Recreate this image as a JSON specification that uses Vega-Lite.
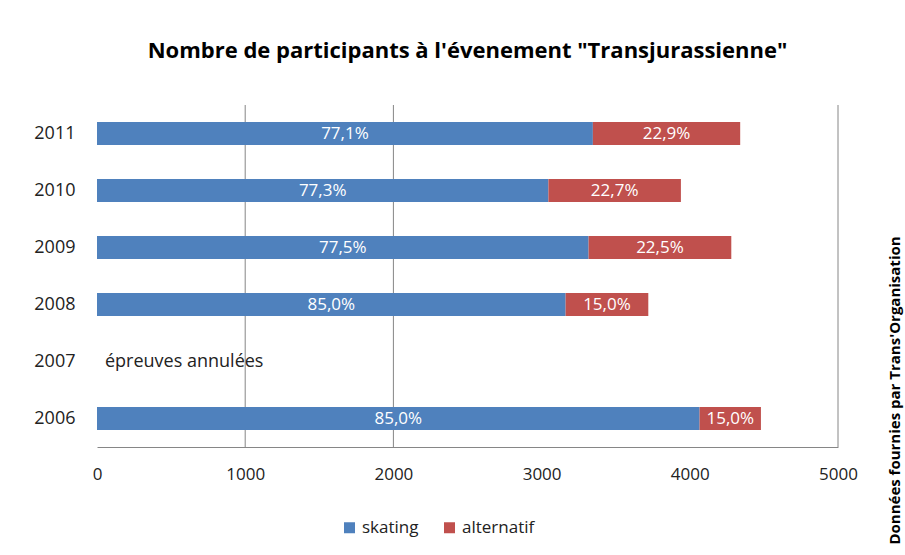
{
  "$schema": "https://vega.github.io/schema/vega-lite/v6.json",
  "autosize": {"type": "none"},
  "padding": {"left": 97, "top": 105, "right": 67, "bottom": 108},
  "width": 741,
  "height": 342,
  "background": "white",
  "config": {"font": "Open Sans", "view": {"stroke": null}},
  "title": {
    "text": "Nombre de participants à l'évenement \"Transjurassienne\"",
    "fontSize": 22,
    "fontWeight": "bold",
    "font": "Open Sans",
    "color": "#000000",
    "offset": 42,
    "anchor": "middle"
  },
  "datasets": {
    "bars": [
      {"year": "2011", "type": "skating", "value": 3346, "label": "77,1%", "ord": 1},
      {"year": "2011", "type": "alternatif", "value": 994, "label": "22,9%", "ord": 2},
      {"year": "2010", "type": "skating", "value": 3046, "label": "77,3%", "ord": 1},
      {"year": "2010", "type": "alternatif", "value": 894, "label": "22,7%", "ord": 2},
      {"year": "2009", "type": "skating", "value": 3317, "label": "77,5%", "ord": 1},
      {"year": "2009", "type": "alternatif", "value": 963, "label": "22,5%", "ord": 2},
      {"year": "2008", "type": "skating", "value": 3162, "label": "85,0%", "ord": 1},
      {"year": "2008", "type": "alternatif", "value": 558, "label": "15,0%", "ord": 2},
      {"year": "2006", "type": "skating", "value": 4066, "label": "85,0%", "ord": 1},
      {"year": "2006", "type": "alternatif", "value": 414, "label": "15,0%", "ord": 2}
    ],
    "notes": [{"year": "2007", "note": "épreuves annulées"}],
    "grid": [{"g": 1000}, {"g": 2000}, {"g": 5000}]
  },
  "layer": [
    {
      "data": {"name": "grid"},
      "mark": {"type": "rule", "color": "#868686", "strokeWidth": 1},
      "encoding": {
        "x": {"field": "g", "type": "quantitative", "title": null, "scale": {"domain": [0, 5000], "nice": false}}
      }
    },
    {
      "data": {"name": "bars"},
      "mark": {"type": "bar"},
      "encoding": {
        "y": {
          "field": "year", "type": "ordinal", "title": null,
          "scale": {"domain": ["2011", "2010", "2009", "2008", "2007", "2006"], "paddingInner": 0.6, "paddingOuter": 0.3},
          "axis": {"ticks": false, "domain": false, "labelFontSize": 18, "labelColor": "#222222", "labelPadding": 22}
        },
        "x": {
          "aggregate": "sum", "field": "value", "type": "quantitative", "title": null, "stack": "zero",
          "scale": {"domain": [0, 5000], "nice": false},
          "axis": {"values": [0, 1000, 2000, 3000, 4000, 5000], "format": "d", "grid": false, "ticks": false, "domainColor": "#868686", "labelFontSize": 17, "labelColor": "#222222", "labelPadding": 19, "labelFlush": false}
        },
        "color": {
          "field": "type", "type": "nominal",
          "scale": {"domain": ["skating", "alternatif"], "range": ["#4F81BD", "#C0504D"]},
          "legend": {"orient": "none", "legendX": 244, "legendY": 414, "direction": "horizontal", "title": null, "symbolType": "square", "symbolSize": 121, "symbolStrokeWidth": 0, "labelFontSize": 17, "labelColor": "#222222", "columnPadding": 22, "labelOffset": 4}
        },
        "order": {"field": "ord", "type": "quantitative"}
      }
    },
    {
      "data": {"name": "bars"},
      "transform": [
        {"stack": "value", "groupby": ["year"], "sort": [{"field": "ord", "order": "ascending"}], "as": ["x0", "x1"]},
        {"fold": ["x0", "x1"], "as": ["edge", "pos"]}
      ],
      "mark": {"type": "text", "color": "white", "fontSize": 17, "align": "center", "baseline": "middle"},
      "encoding": {
        "y": {
          "field": "year", "type": "ordinal", "title": null,
          "axis": {"orient": "right", "labels": false, "ticks": false, "domain": false, "title": "Données fournies par Trans'Organisation", "titleAngle": 270, "titleX": 56, "titleY": 285, "titleFontSize": 15, "titleFontWeight": "bold", "titleAlign": "center", "titleBaseline": "middle", "titleColor": "#000000"}
        },
        "x": {"aggregate": "mean", "field": "pos", "type": "quantitative", "title": null},
        "detail": {"field": "type", "type": "nominal"},
        "text": {"field": "label", "type": "nominal"}
      }
    },
    {
      "data": {"name": "notes"},
      "mark": {"type": "text", "align": "left", "baseline": "middle", "dx": 8, "fontSize": 18, "color": "#222222"},
      "encoding": {
        "y": {"field": "year", "type": "ordinal", "title": null, "axis": null},
        "x": {"datum": 0, "type": "quantitative"},
        "text": {"field": "note", "type": "nominal"}
      }
    }
  ],
  "resolve": {"axis": {"y": "independent"}}
}
